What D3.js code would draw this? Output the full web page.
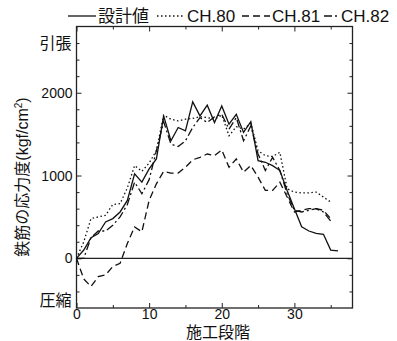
<!DOCTYPE html>
<html>
<head>
<meta charset="utf-8">
<script src="https://cdn.jsdelivr.net/npm/d3@7"></script>
<style>
  body { margin: 0; background: #fff; }
  text { font-family: "Liberation Sans", "Noto Sans CJK JP", sans-serif; fill: #111; }
  .jp { font-family: "Noto Sans CJK JP", sans-serif; }
</style>
</head>
<body>
<div id="chart"></div>
<script>
// construction step (施工段階)
const steps = [0,1,2,3,4,5,6,7,8,9,10,11,12,13,14,15,16,17,18,19,20,21,22,23,24,25,26,27,28,29,30,31,32,33,34,35,36];

// rebar stress, kgf/cm2
const design = [0,100,250,300,440,480,560,700,1020,920,1080,1200,1720,1420,1580,1540,1890,1720,1850,1640,1840,1620,1740,1520,1650,1180,1160,1120,1060,820,600,380,330,300,290,100,90];
const ch80 = [0,200,480,500,520,650,660,850,1120,1050,1150,1300,1730,1680,1660,1680,1690,1710,1700,1680,1730,1480,1590,1560,1630,1300,1240,1230,1280,840,800,790,790,800,740,680];
const ch81 = [0,-250,-340,-220,-200,-100,-60,180,380,320,700,900,1050,1030,1030,1100,1190,1220,1260,1240,1310,1100,1200,1040,1120,980,820,820,920,740,560,580,600,600,580,480];
const ch82 = [0,0,250,330,330,400,500,650,920,780,950,1300,1650,1380,1350,1420,1580,1700,1640,1710,1740,1560,1700,1420,1600,1260,1060,1220,1060,780,580,560,580,600,560,450];

const seriesNames = ["設計値", "CH.80", "CH.81", "CH.82"];
const seriesValues = [design, ch80, ch81, ch82];
const seriesDash = [null, "1.5,2.5", "7,4", "8,3,2,3"];

const xMajor = [0, 10, 20, 30];
const xMinor = [5, 15, 25, 35];
const yMajor = [0, 1000, 2000];
const yMinor = [-400, -200, 200, 400, 600, 800, 1200, 1400, 1600, 1800, 2200, 2400, 2600];

const W = 397, H = 341;
const margin = {top: 26.5, right: 44.5, bottom: 33, left: 76.5};
const width = W - margin.left - margin.right,
      height = H - margin.top - margin.bottom;

const svg = d3.select("#chart").append("svg")
    .attr("width", W).attr("height", H);

const g = svg.append("g")
    .attr("transform", "translate(" + margin.left + "," + margin.top + ")");

const x = d3.scaleLinear().domain([0, 38]).range([0, width]);
const y = d3.scaleLinear().domain([-600, 2800]).range([height, 0]);

// axes, ticks pointing inward
function styleAxis(sel) {
    sel.select(".domain").remove();
    sel.selectAll("line").attr("stroke", "#222").attr("stroke-width", 1);
    sel.selectAll("text").style("font-size", "14px");
}

g.append("g").attr("transform", "translate(0," + height + ")")
    .call(d3.axisBottom(x).tickValues(xMajor).tickSize(-5).tickPadding(1).tickFormat(d3.format("d")))
    .call(styleAxis);
g.append("g").attr("transform", "translate(0," + height + ")")
    .call(d3.axisBottom(x).tickValues(xMinor).tickSize(-3).tickFormat(""))
    .call(styleAxis);
g.append("g")
    .call(d3.axisTop(x).tickValues(xMajor).tickSize(-5).tickFormat(""))
    .call(styleAxis);
g.append("g")
    .call(d3.axisTop(x).tickValues(xMinor).tickSize(-3).tickFormat(""))
    .call(styleAxis);

g.append("g")
    .call(d3.axisLeft(y).tickValues(yMajor).tickSize(-5).tickPadding(4).tickFormat(d3.format("d")))
    .call(styleAxis);
g.append("g")
    .call(d3.axisLeft(y).tickValues(yMinor).tickSize(-3).tickFormat(""))
    .call(styleAxis);
g.append("g").attr("transform", "translate(" + width + ",0)")
    .call(d3.axisRight(y).tickValues(yMajor).tickSize(-5).tickFormat(""))
    .call(styleAxis);
g.append("g").attr("transform", "translate(" + width + ",0)")
    .call(d3.axisRight(y).tickValues(yMinor).tickSize(-3).tickFormat(""))
    .call(styleAxis);

// frame
g.append("rect")
    .attr("width", width).attr("height", height)
    .attr("fill", "none").attr("stroke", "#222").attr("stroke-width", 1.3);

// zero line
g.append("line")
    .attr("x1", 0).attr("x2", width)
    .attr("y1", y(0)).attr("y2", y(0))
    .attr("stroke", "#222").attr("stroke-width", 1.3);

// lines
const line = d3.line()
    .x(function(d, i) { return x(steps[i]); })
    .y(function(d) { return y(d); });

seriesValues.forEach(function(vals, k) {
    g.append("path")
        .datum(vals)
        .attr("d", line)
        .attr("fill", "none")
        .attr("stroke", "#111")
        .attr("stroke-width", 1.3)
        .attr("stroke-dasharray", seriesDash[k]);
});

// tension / compression labels
g.append("text").attr("class", "jp")
    .attr("x", -5).attr("y", y(2600))
    .attr("text-anchor", "end").attr("dy", "0.35em")
    .style("font-size", "16px").text("引張");
g.append("text").attr("class", "jp")
    .attr("x", -5).attr("y", y(-510))
    .attr("text-anchor", "end").attr("dy", "0.35em")
    .style("font-size", "16px").text("圧縮");

// axis titles
svg.append("text")
    .attr("x", margin.left + x(19.5)).attr("y", 337.5)
    .attr("text-anchor", "middle")
    .style("font-size", "16px").text("施工段階");

const yt = svg.append("text")
    .attr("transform", "translate(28,177) rotate(-90)")
    .attr("text-anchor", "middle")
    .style("font-size", "16px");
yt.append("tspan").attr("class", "jp").text("鉄筋の応力度");
yt.append("tspan").text("(kgf/cm");
yt.append("tspan").attr("dy", -6).style("font-size", "10px").text("2");
yt.append("tspan").attr("dy", 6).text(")");

// legend
const legendLineX = [[68, 96], [157, 185], [242, 270], [324, 340]];
const legendTextX = [98, 187, 272, 341];
const legend = svg.append("g").attr("transform", "translate(0,16)");
seriesNames.forEach(function(name, k) {
    legend.append("line")
        .attr("x1", legendLineX[k][0]).attr("x2", legendLineX[k][1])
        .attr("y1", 0).attr("y2", 0)
        .attr("stroke", "#111").attr("stroke-width", 1.3)
        .attr("stroke-dasharray", seriesDash[k]);
    legend.append("text")
        .attr("class", k === 0 ? "jp" : null)
        .attr("x", legendTextX[k])
        .attr("dy", "0.35em")
        .style("font-size", "17px")
        .text(name);
});
</script>
</body>
</html>
